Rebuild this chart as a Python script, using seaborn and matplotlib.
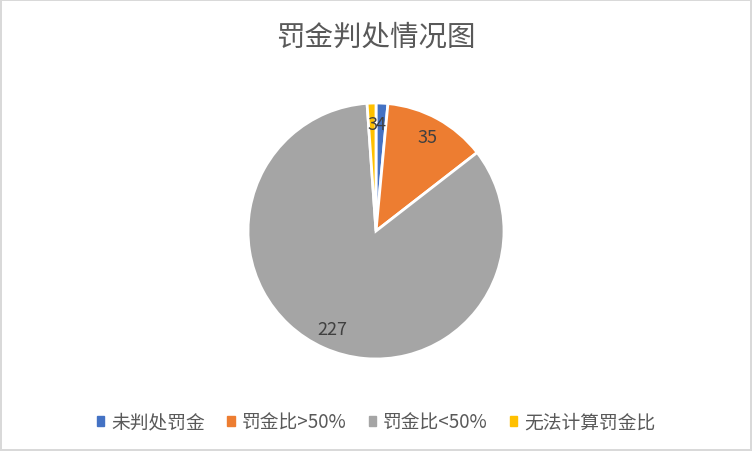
import matplotlib.pyplot as plt
import matplotlib.patches as mpatches
import seaborn as sns

# data
categories = ['未判处罚金', '罚金比>50%', '罚金比<50%', '无法计算罚金比']
counts = [4, 35, 227, 3]
colors = ['#4472C4', '#ED7D31', '#A5A5A5', '#FFC000']

sns.set_theme(style='white')
plt.rcParams['font.family'] = ['Noto Sans CJK SC', 'DejaVu Sans']

fig = plt.figure(figsize=(7.52, 4.52), dpi=100)
fig.patch.set_facecolor('white')
fig.patch.set_edgecolor('#D9D9D9')
fig.patch.set_linewidth(1.5)

ax = fig.add_axes([248 / 752, (452 - 360) / 452, 256 / 752, 256 / 452])
total = sum(counts)
wedges, texts, autotexts = ax.pie(
    counts, colors=sns.color_palette(colors), startangle=90, counterclock=False,
    autopct=lambda p: f'{round(p * total / 100):d}', pctdistance=0.84,
    wedgeprops=dict(edgecolor='white', linewidth=2), radius=1.0)
for t in autotexts:
    t.set_color('#404040')
    t.set_fontsize(13)
ax.set_xlim(-1, 1); ax.set_ylim(-1, 1)
ax.set_aspect('equal')

fig.text(0.5, 1 - 38 / 452, '罚金判处情况图', ha='center', va='center',
         fontsize=20.5, color='#595959')

handles = [mpatches.Patch(color=cc, label=gg) for gg, cc in zip(categories, colors)]
leg = fig.legend(handles=handles, loc='center', bbox_to_anchor=(0.5, 29 / 452), ncol=4,
                 frameon=False, fontsize=13.5, labelcolor='#595959',
                 handlelength=0.4, handleheight=0.4, handletextpad=0.35, columnspacing=1.2)

plt.savefig('out.png', dpi=100, facecolor=fig.get_facecolor(), edgecolor=fig.get_edgecolor())
